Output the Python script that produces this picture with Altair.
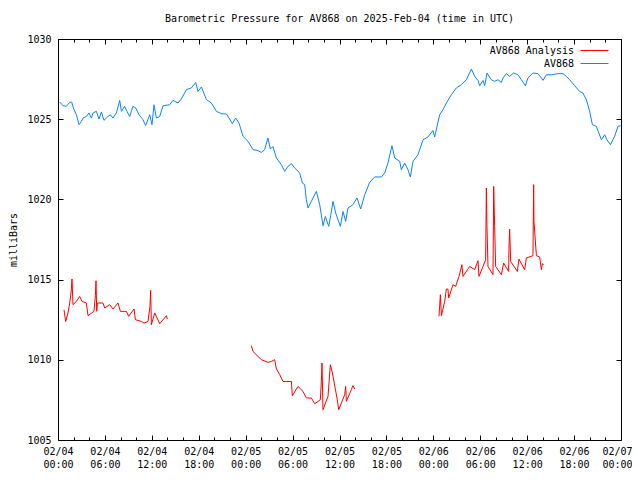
import altair as alt
import pandas as pd

TITLE = "Barometric Pressure for AV868 on 2025-Feb-04 (time in UTC)"
RED_NAME = "AV868 Analysis"
BLUE_NAME = "AV868"
RED = "#ff0000"
BLUE = "#0a84ff"
FONT = "DejaVu Sans Mono"

# hours since 2025-02-04 00:00 UTC, pressure in millibars
blue_hours = [0.22, 0.64, 1.07, 1.50, 1.75, 2.01, 2.35, 2.69, 2.99, 3.20,
              3.63, 3.96, 4.27, 4.48, 4.91, 5.24, 5.55, 5.88, 6.39, 6.70,
              7.03, 7.47, 7.89, 8.11, 8.53, 8.82, 9.17, 9.59, 9.94, 10.36,
              10.87, 11.21, 11.73, 12.02, 12.28, 12.58, 13.01, 13.43, 14.28, 14.71,
              15.35, 15.78, 16.42, 17.06, 17.61, 17.90, 18.34, 18.98, 19.62, 20.26,
              20.90, 21.54, 21.96, 22.30, 22.72, 23.15, 23.66, 24.30, 24.94, 25.45,
              26.01, 26.43, 26.85, 27.16, 27.49, 27.93, 28.57, 28.99, 29.41, 29.85,
              30.27, 30.91, 31.25, 31.55, 31.76, 31.97, 32.40, 33.04, 33.47, 33.89,
              34.19, 34.62, 34.87, 35.17, 35.51, 36.11, 36.45, 36.79, 37.08, 37.72,
              38.24, 38.71, 39.22, 39.86, 40.50, 41.36, 41.78, 42.20, 42.71, 43.06,
              43.70, 43.91, 44.33, 44.76, 45.06, 45.40, 46.04, 46.68, 47.31, 47.95,
              48.17, 48.81, 49.23, 49.67, 50.31, 50.95, 51.59, 52.23, 52.86, 53.29,
              53.71, 53.93, 54.35, 54.57, 54.86, 55.42, 55.84, 56.27, 56.70, 56.91,
              57.34, 57.76, 58.27, 58.82, 59.26, 59.77, 60.10, 60.74, 61.38, 61.82,
              62.02, 62.46, 63.09, 63.94, 64.58, 65.01, 65.43, 66.07, 66.71, 67.13,
              67.57, 67.99, 68.34, 68.85, 69.49, 69.91, 70.20, 70.64, 71.19, 71.61,
              71.95]
blue_mbar = [1026.07, 1025.84, 1025.80, 1026.05, 1026.07, 1025.64, 1025.28, 1024.66, 1024.86, 1025.07,
             1025.17, 1025.39, 1025.07, 1025.39, 1025.49, 1025.01, 1025.45, 1024.93, 1025.17, 1025.28,
             1025.07, 1025.39, 1026.17, 1025.49, 1025.80, 1025.49, 1025.17, 1025.80, 1025.70, 1025.28,
             1024.97, 1024.61, 1025.28, 1024.66, 1025.90, 1025.07, 1025.17, 1025.84, 1025.90, 1026.17,
             1026.01, 1026.26, 1026.84, 1026.95, 1027.29, 1026.73, 1027.01, 1026.22, 1026.01, 1025.49,
             1025.34, 1025.32, 1025.01, 1024.72, 1025.07, 1024.76, 1023.93, 1023.62, 1023.10, 1023.06,
             1022.93, 1023.10, 1023.83, 1023.14, 1023.30, 1022.58, 1022.16, 1021.75, 1022.06, 1022.23,
             1021.96, 1021.65, 1021.02, 1020.92, 1019.98, 1019.46, 1019.88, 1020.50, 1019.67, 1018.36,
             1018.94, 1018.32, 1018.98, 1019.88, 1019.15, 1018.32, 1019.25, 1018.63, 1019.46, 1019.67,
             1020.09, 1019.40, 1020.29, 1021.06, 1021.40, 1021.40, 1021.65, 1022.27, 1023.35, 1022.58,
             1022.37, 1021.85, 1022.27, 1021.85, 1021.40, 1022.37, 1022.79, 1023.72, 1023.89, 1024.30,
             1023.89, 1025.28, 1025.59, 1026.01, 1026.53, 1026.95, 1027.15, 1027.46, 1028.13, 1027.67,
             1027.42, 1027.09, 1027.42, 1027.09, 1027.88, 1027.46, 1027.36, 1027.46, 1027.29, 1027.57,
             1027.84, 1027.67, 1027.88, 1027.77, 1027.46, 1027.09, 1027.57, 1027.88, 1027.84, 1027.57,
             1027.42, 1027.77, 1027.77, 1027.84, 1027.84, 1027.67, 1027.46, 1027.09, 1026.73, 1026.63,
             1026.22, 1025.49, 1024.66, 1024.55, 1023.72, 1024.03, 1023.72, 1023.41, 1023.93, 1024.55,
             1024.60]

red1_hours = [0.77, 0.98, 1.28, 1.50, 1.71, 1.79, 1.92, 2.35, 2.77, 3.07,
              3.63, 3.84, 4.60, 4.78, 4.86, 4.95, 5.04, 5.75, 5.97, 6.61,
              7.03, 7.67, 7.98, 8.75, 9.04, 9.72, 9.90, 10.66, 11.00, 11.51,
              11.76, 11.85, 11.94, 12.37, 13.01, 13.86, 13.99]
red1_mbar = [1013.12, 1012.39, 1012.92, 1013.54, 1014.37, 1015.04, 1013.44, 1013.64, 1013.95, 1013.64,
             1013.54, 1012.75, 1013.02, 1014.00, 1014.93, 1013.02, 1013.54, 1013.54, 1013.23, 1013.44,
             1013.17, 1013.54, 1013.02, 1013.02, 1012.71, 1013.17, 1012.50, 1012.39, 1012.29, 1012.39,
             1013.33, 1014.33, 1012.19, 1012.92, 1012.25, 1012.75, 1012.54]

red2_hours = [24.73, 24.94, 25.58, 26.01, 26.85, 27.29, 27.71, 27.93, 28.36, 28.77,
              29.85, 29.97, 30.69, 31.33, 31.76, 32.40, 32.83, 33.55, 33.68, 33.76,
              33.89, 34.53, 34.83, 35.09, 35.68, 35.90, 36.66, 36.79, 36.88, 37.52,
              37.72, 37.94]
red2_mbar = [1010.88, 1010.52, 1010.21, 1010.01, 1009.84, 1009.90, 1010.01, 1009.43, 1009.07, 1008.65,
             1008.65, 1007.76, 1008.34, 1008.03, 1007.62, 1007.62, 1007.26, 1007.51, 1008.65, 1009.80,
             1006.89, 1007.72, 1009.69, 1009.18, 1007.62, 1006.89, 1007.82, 1008.34, 1007.41, 1008.14,
             1008.39, 1008.18]

red3_hours = [48.72, 48.81, 48.90, 49.03, 49.45, 49.67, 49.87, 49.96, 50.51, 50.86,
              51.28, 51.66, 51.79, 52.65, 53.29, 53.71, 53.84, 54.35, 54.69, 54.78,
              54.86, 54.99, 55.63, 55.72, 55.84, 55.97, 56.70, 56.99, 57.63, 57.67,
              57.76, 57.89, 58.75, 58.95, 59.68, 59.90, 60.74, 60.83, 60.87, 61.18,
              61.60, 61.82, 61.94, 62.11]
red3_mbar = [1012.71, 1013.37, 1014.06, 1012.75, 1013.64, 1014.41, 1014.41, 1013.85, 1014.68, 1014.58,
             1015.20, 1015.93, 1015.20, 1015.82, 1015.62, 1016.18, 1015.20, 1015.82, 1016.24, 1020.71,
             1018.32, 1015.82, 1015.31, 1020.81, 1018.32, 1015.82, 1015.31, 1016.03, 1015.51, 1016.86,
             1018.15, 1016.13, 1015.51, 1016.28, 1015.62, 1016.35, 1016.49, 1020.92, 1018.63, 1016.49,
             1016.41, 1015.62, 1015.99, 1015.93]

y_ticks = [1005, 1010, 1015, 1020, 1025, 1030]
x_label_hours = [0, 6, 12, 18, 24, 30, 36, 42, 48, 54, 60, 66, 72]
x_tick_hours = [0, 2, 4, 6, 8, 10, 12, 14, 16, 18, 20, 22, 24, 26, 28, 30, 32, 34, 36,
                38, 40, 42, 44, 46, 48, 50, 52, 54, 56, 58, 60, 62, 64, 66, 68, 70, 72]

START = pd.Timestamp("2025-02-04T00:00:00", tz="UTC")


def iso(h):
    return (START + pd.Timedelta(hours=h)).strftime("%Y-%m-%dT%H:%M:%SZ")


def ms(h):
    return int((START + pd.Timedelta(hours=h)).value // 1_000_000)


red_rows = []
for i, (hs, vs) in enumerate([(red1_hours, red1_mbar), (red2_hours, red2_mbar), (red3_hours, red3_mbar)]):
    for h, v in zip(hs, vs):
        red_rows.append({"t": iso(h), "mbar": v, "series": RED_NAME, "seg": f"r{i}"})
red_df = pd.DataFrame(red_rows)
blue_df = pd.DataFrame({"t": [iso(h) for h in blue_hours], "mbar": blue_mbar,
                        "series": BLUE_NAME, "seg": "b"})

W, H = 563, 401

x_scale = alt.Scale(type="utc", domain=[ms(0), ms(72)], nice=False)
y_scale = alt.Scale(domain=[1005, 1030], nice=False, zero=False)

label_ms = [ms(h) for h in x_label_hours]
tick_ms = [ms(h) for h in x_tick_hours]

x_tick_len = {"condition": {"test": "utchours(datum.value) % 6 === 0", "value": 5}, "value": 3}
last_label_shift = {"condition": {"test": f"datum.value >= {ms(72)}", "value": -4}, "value": 0}


def tick_axis(orient, offset, values, size):
    return alt.Axis(orient=orient, offset=offset, values=values, tickSize=size,
                    tickColor="black", tickWidth=1, ticks=True, labels=False,
                    domain=False, grid=False, title=None)


x_label_axis = alt.Axis(
    orient="bottom", values=label_ms,
    labelExpr="[utcFormat(datum.value, '%m/%d'), utcFormat(datum.value, '%H:%M')]",
    ticks=False, tickSize=0, domain=False, grid=False, title=None,
    labelPadding=6, labelFont=FONT, labelFontSize=10, labelColor="black",
    labelFlush=False, labelOverlap=False, labelLineHeight=13,
    labelOffset=last_label_shift,
)
y_label_axis = alt.Axis(
    orient="left", values=y_ticks, format="d", ticks=False, tickSize=0, domain=False,
    grid=False, labelPadding=7, labelFont=FONT, labelFontSize=10, labelColor="black",
    labelOverlap=False, title="milliBars", titleFont=FONT, titleFontSize=10,
    titleFontWeight="normal", titleColor="black", titlePadding=8,
)


def make_legend(y, color):
    return alt.Legend(
        orient="none", legendX=522, legendY=y, title=None,
        symbolType="stroke", symbolSize=784, symbolStrokeWidth=1,
        symbolStrokeColor=color, symbolFillColor="transparent", symbolOpacity=1,
        labelAlign="right", labelOffset={"expr": "-35"},
        labelFont=FONT, labelFontSize=10, labelColor="black", labelLimit=0,
        padding=0, labelBaseline="middle",
    )


red_lines = alt.Chart(red_df).mark_line(strokeWidth=1).encode(
    x=alt.X("t:T", scale=x_scale, axis=x_label_axis),
    y=alt.Y("mbar:Q", scale=y_scale, axis=y_label_axis),
    color=alt.Color("series:N", scale=alt.Scale(domain=[RED_NAME], range=[RED]),
                    legend=make_legend(-3, RED)),
    detail="seg:N",
)

blue_lines = alt.Chart(blue_df).mark_line(strokeWidth=1).encode(
    x=alt.X("t:T", scale=x_scale, axis=tick_axis("top", -H, tick_ms, x_tick_len)),
    y=alt.Y("mbar:Q", scale=y_scale, axis=tick_axis("right", -W, y_ticks, 5)),
    stroke=alt.Stroke("series:N", scale=alt.Scale(domain=[BLUE_NAME], range=[BLUE]),
                      legend=make_legend(10, BLUE)),
)

ticks_b = alt.Chart(blue_df).mark_line(opacity=0).encode(
    x=alt.X("t:T", scale=x_scale, axis=tick_axis("bottom", -H, tick_ms, x_tick_len)),
    y=alt.Y("mbar:Q", scale=y_scale, axis=tick_axis("left", -W, y_ticks, 5)),
)

chart = alt.layer(red_lines, blue_lines, ticks_b).resolve_axis(
    x="independent", y="independent"
).resolve_scale(color="independent", stroke="independent").properties(
    width=W, height=H,
    title=alt.TitleParams(TITLE, font=FONT, fontSize=10, fontWeight="normal",
                          color="black", anchor="middle", offset=10),
    padding={"left": 50, "top": 31, "right": 11, "bottom": 40},
    autosize=alt.AutoSizeParams(type="none"),
).configure_view(stroke="black", strokeWidth=1)

chart.save("out.html", embed_options={"renderer": "svg", "actions": False})
